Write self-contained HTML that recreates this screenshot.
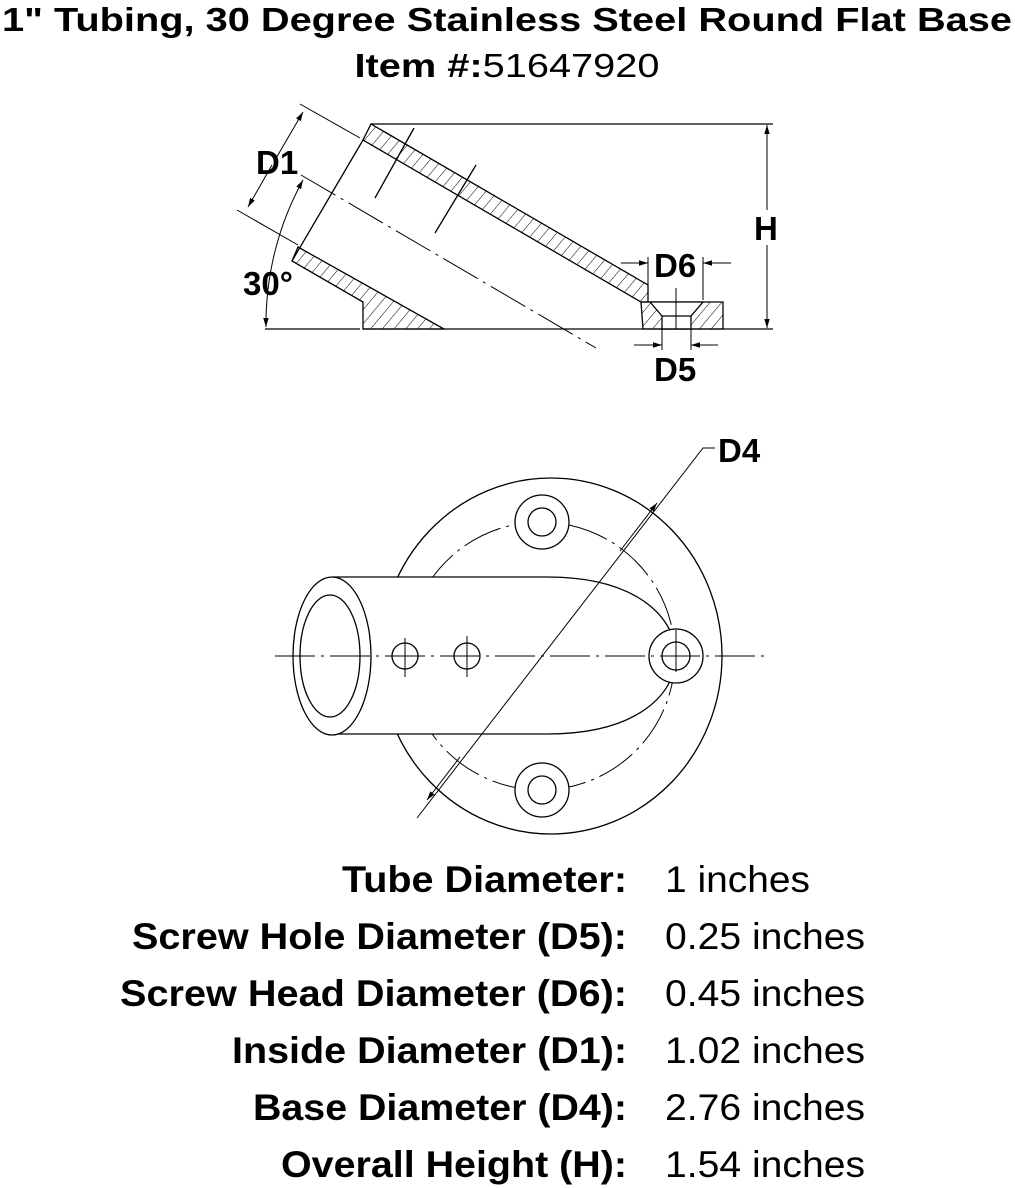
<!DOCTYPE html>
<html><head><meta charset="utf-8"><style>
html,body{margin:0;padding:0;background:#fff;}
svg{display:block;}
text{font-family:"Liberation Sans",sans-serif;fill:#000;}
</style></head><body>
<svg width="1015" height="1188" viewBox="0 0 1015 1188" xmlns="http://www.w3.org/2000/svg">
<defs>
<pattern id="h" width="9" height="9" patternUnits="userSpaceOnUse" patternTransform="rotate(40)">
<line x1="0" y1="0" x2="0" y2="9" stroke="#000" stroke-width="1"/>
</pattern>
<marker id="a" viewBox="0 0 10 10" refX="10" refY="5" markerWidth="9" markerHeight="9" orient="auto-start-reverse" markerUnits="userSpaceOnUse">
<path d="M0,2 L10,5 L0,8 z" fill="#000"/>
</marker>
</defs>
<text x="507" y="31" font-size="33" font-weight="bold" text-anchor="middle" textLength="1010" lengthAdjust="spacingAndGlyphs">1" Tubing, 30 Degree Stainless Steel Round Flat Base</text>
<text x="507" y="77" font-size="33" text-anchor="middle" textLength="305" lengthAdjust="spacingAndGlyphs"><tspan font-weight="bold">Item #:</tspan>51647920</text>

<g stroke="#000" stroke-width="1.3" fill="none">
<polygon points="371,124 648,285 648,302 641,302 363,140" fill="url(#h)"/>
<polygon points="298,247 444,329 363,329 363,302 292,261" fill="url(#h)"/>
<polygon points="641,302 723,302 723,329 643,329" fill="url(#h)"/>
<polygon points="650,302 703,302 691,316 691,329 662,329 662,316" fill="#fff"/>
<line x1="662" y1="316" x2="691" y2="316"/>
<line x1="363" y1="140" x2="292" y2="261"/>
<line x1="371" y1="124" x2="773" y2="124"/>
<line x1="265" y1="329" x2="360" y2="329"/>
<line x1="363" y1="329" x2="773" y2="329"/>
<line x1="414" y1="128" x2="375" y2="198"/>
<line x1="476" y1="165" x2="435" y2="233"/>
<line x1="301" y1="175" x2="596" y2="348" stroke-dasharray="40,6,3,6" stroke-width="1"/>
<line x1="676" y1="288" x2="676" y2="329" stroke-width="1"/>
<line x1="300" y1="104" x2="360" y2="138" stroke-width="1"/>
<line x1="237" y1="210" x2="298" y2="245" stroke-width="1"/>
<line x1="275" y1="160" x2="303" y2="112" marker-end="url(#a)" stroke-width="1"/>
<line x1="272" y1="165" x2="248" y2="207" marker-end="url(#a)" stroke-width="1"/>
<path d="M303,180 A299,299 0 0 0 266,327" marker-start="url(#a)" marker-end="url(#a)" stroke-width="1"/>
<line x1="767" y1="210" x2="767" y2="125" marker-end="url(#a)" stroke-width="1"/>
<line x1="767" y1="245" x2="767" y2="328" marker-end="url(#a)" stroke-width="1"/>
<line x1="648" y1="257" x2="648" y2="285" stroke-width="1"/>
<line x1="703" y1="257" x2="703" y2="300" stroke-width="1"/>
<line x1="621" y1="263" x2="648" y2="263" marker-end="url(#a)" stroke-width="1"/>
<line x1="731" y1="263" x2="703" y2="263" marker-end="url(#a)" stroke-width="1"/>
<line x1="662" y1="329" x2="662" y2="350" stroke-width="1"/>
<line x1="691" y1="329" x2="691" y2="350" stroke-width="1"/>
<line x1="634" y1="345" x2="662" y2="345" marker-end="url(#a)" stroke-width="1"/>
<line x1="718" y1="345" x2="691" y2="345" marker-end="url(#a)" stroke-width="1"/>
</g>
<g font-size="33" font-weight="bold">
<text x="256" y="174">D1</text>
<text x="243" y="295">30°</text>
<text x="754" y="240">H</text>
<text x="654" y="277">D6</text>
<text x="654" y="381">D5</text>
</g>

<g stroke="#000" stroke-width="1.3" fill="none">
<ellipse cx="551" cy="656" rx="171" ry="178"/>
<circle cx="541" cy="656" r="134" stroke-width="1" stroke-dasharray="40,6,3,6"/>
<circle cx="542" cy="522" r="27" fill="#fff"/><circle cx="542" cy="522" r="14"/>
<circle cx="542" cy="790" r="27" fill="#fff"/><circle cx="542" cy="790" r="14"/>
<path d="M332,577 L547,577 C640,577 676,620 676,656 C676,692 640,734 547,734 L332,734" fill="#fff"/>
<ellipse cx="332" cy="656" rx="39" ry="79" fill="#fff"/>
<ellipse cx="330" cy="656" rx="30" ry="61"/>
<circle cx="676" cy="656" r="27" fill="#fff"/><circle cx="676" cy="656" r="14"/>
<circle cx="405" cy="656" r="13"/><circle cx="467" cy="656" r="13"/>
<line x1="405" y1="638" x2="405" y2="677" stroke-width="1"/>
<line x1="467" y1="636" x2="467" y2="677" stroke-width="1"/>
<line x1="275" y1="656" x2="765" y2="656" stroke-width="1" stroke-dasharray="40,6,3,6"/>
<line x1="676" y1="630" x2="676" y2="672" stroke-width="1"/>
<polyline points="715,448 703,448 417,818" stroke-width="1"/>
<line x1="620" y1="551" x2="657" y2="503" marker-end="url(#a)" stroke-width="1"/>
<line x1="460" y1="757" x2="427" y2="800" marker-end="url(#a)" stroke-width="1"/>
</g>
<text x="718" y="462" font-size="33" font-weight="bold">D4</text>

<g font-size="37">
<text x="342" y="892" font-weight="bold" textLength="285" lengthAdjust="spacingAndGlyphs">Tube Diameter:</text>
<text x="132" y="949" font-weight="bold" textLength="495" lengthAdjust="spacingAndGlyphs">Screw Hole Diameter (D5):</text>
<text x="120" y="1006" font-weight="bold" textLength="507" lengthAdjust="spacingAndGlyphs">Screw Head Diameter (D6):</text>
<text x="232" y="1063" font-weight="bold" textLength="395" lengthAdjust="spacingAndGlyphs">Inside Diameter (D1):</text>
<text x="253" y="1120" font-weight="bold" textLength="374" lengthAdjust="spacingAndGlyphs">Base Diameter (D4):</text>
<text x="281" y="1177" font-weight="bold" textLength="346" lengthAdjust="spacingAndGlyphs">Overall Height (H):</text>
<text x="665" y="892" textLength="145" lengthAdjust="spacingAndGlyphs">1 inches</text>
<text x="665" y="949" textLength="200" lengthAdjust="spacingAndGlyphs">0.25 inches</text>
<text x="665" y="1006" textLength="200" lengthAdjust="spacingAndGlyphs">0.45 inches</text>
<text x="665" y="1063" textLength="200" lengthAdjust="spacingAndGlyphs">1.02 inches</text>
<text x="665" y="1120" textLength="200" lengthAdjust="spacingAndGlyphs">2.76 inches</text>
<text x="665" y="1177" textLength="200" lengthAdjust="spacingAndGlyphs">1.54 inches</text>
</g>
</svg>
</body></html>
